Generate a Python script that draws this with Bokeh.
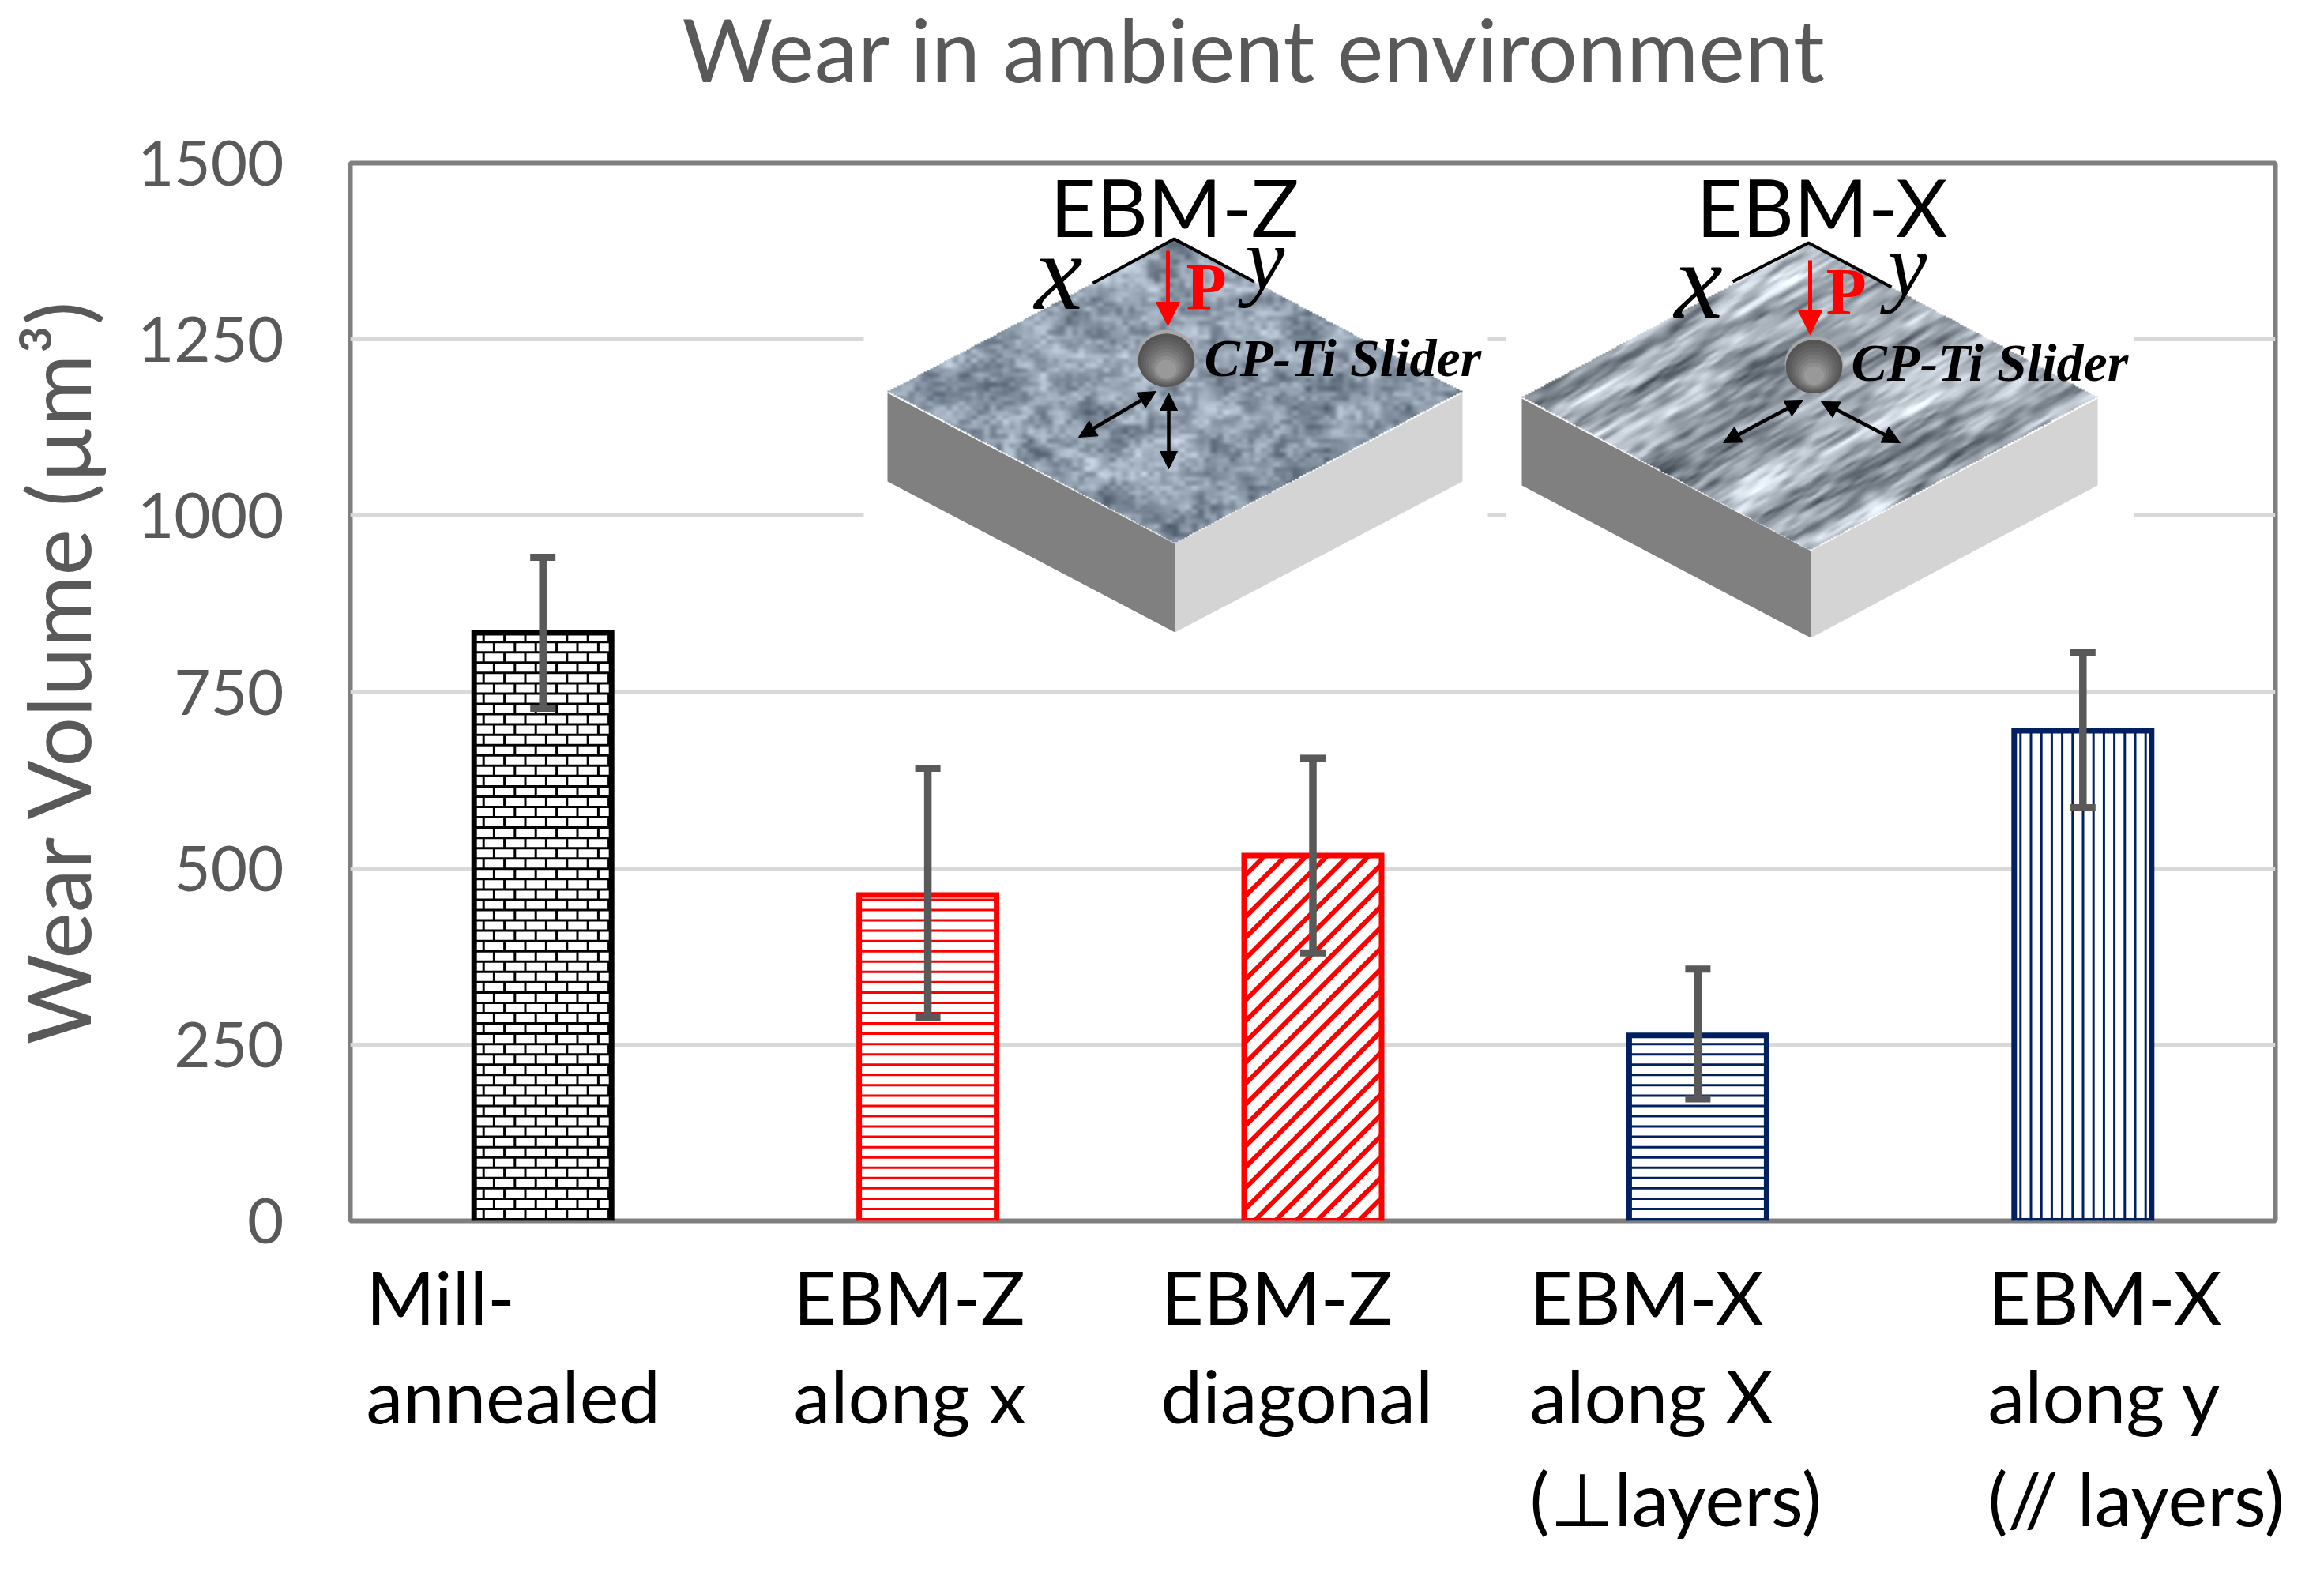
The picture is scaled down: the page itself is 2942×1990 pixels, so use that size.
import numpy as np
from bokeh.plotting import figure
from bokeh.layouts import column, row
from bokeh.core.properties import value
from bokeh.models import Range1d, Arrow, NormalHead, TeeHead, Whisker, ColumnDataSource, FixedTicker
from bokeh.embed import file_html
from bokeh.resources import INLINE

# ---- chart data ----
chart_title = "Wear in ambient environment"
y_label = "Wear Volume (\u00b5m\u00b3)"
categories = [["Mill-", "annealed"], ["EBM-Z", "along x"], ["EBM-Z", "diagonal"],
              ["EBM-X", "along X", "(\u22a5layers)"], ["EBM-X", "along y", "(// layers)"]]
wear_volume = [834, 462, 518, 263, 695]
err_upper = [941, 642, 656, 357, 806]
err_lower = [727, 288, 380, 173, 586]
bar_colors = ["#000000", "#ff0000", "#ff0000", "#002060", "#002060"]
bar_hatches = ["brick", "horizontal", "diagonal", "horizontal", "vertical"]
y_ticks = [0, 250, 500, 750, 1000, 1250, 1500]

TEXT = "#595959"
W, H = 2926, 1974
# frame edges in picture pixels
FL, FR, FT, FB = 443.0, 2880.0, 206.0, 1545.0
H0 = 130     # height of the title strip
H1 = 1575    # bottom of the plot part
S = 170      # width of the strip with the y axis label
XU = (FR - FL) / 5.0
YU = (FB - FT) / 1500.0
EM = 0.37    # the svg text baseline sits this many em too low
def dx(px): return (px - FL) / XU
def dy(py): return (FB - py) / YU

def strip(x0, x1, y_top, y_bottom):
    s = figure(width=x1 - x0, height=y_bottom - y_top, x_range=Range1d(x0, x1), y_range=Range1d(y_bottom, y_top),
               output_backend="svg", toolbar_location=None, x_axis_type=None, y_axis_type=None,
               min_border_left=0, min_border_right=0, min_border_top=0, min_border_bottom=0,
               background_fill_color="white", border_fill_color="white", frame_align=False)
    s.outline_line_color = None
    s.grid.visible = False
    return s

r = strip(0, W, 0, H0)
r.text(x=[863], y=[-7], text=[chart_title], text_font=value("Lato"), text_font_size="111px",
       text_color=TEXT, text_baseline="top", text_align="left")

yl = strip(0, S, H0, H1)
yl.text(x=[113 - EM * 111], y=[1322], text=[y_label], angle=np.pi / 2, text_font=value("Lato"),
        text_font_size="111px", text_color=TEXT, text_baseline="alphabetic", text_align="left")

p = figure(width=W - S, height=H1 - H0, x_range=Range1d(0, 5), y_range=Range1d(0, 1500),
           output_backend="svg", toolbar_location=None, frame_align=False,
           min_border_left=int(FL - S), min_border_right=int(W - FR),
           min_border_top=int(FT - H0), min_border_bottom=int(H1 - FB),
           background_fill_color="white", border_fill_color="white")
p.outline_line_color = "#7f7f7f"
p.outline_line_width = 6
p.xaxis.visible = False
p.xgrid.visible = False
p.ygrid.grid_line_color = "#d9d9d9"
p.ygrid.grid_line_width = 5
ax = p.yaxis[0]
ax.ticker = FixedTicker(ticks=y_ticks)
ax.axis_line_color = None
ax.major_tick_line_color = None
ax.minor_tick_line_color = None
ax.major_label_text_font = "Lato"
ax.major_label_text_font_size = "80px"
ax.major_label_text_color = TEXT
ax.major_label_standoff = 78

# white backing of the two inset pictures, hides the grid there
p.quad(left=[dx(1093), dx(1906)], right=[dx(1883), dx(2701)], top=[dy(212)] * 2, bottom=[dy(812)] * 2,
       fill_color="white", line_color=None)

# ---- bars with pattern fill ----
centers = [i + 0.5 for i in range(5)]
BW = 174.0 / XU
p.vbar(x=centers, top=wear_volume, width=BW, bottom=0, fill_color="white", line_color=None)

def hatch(kind, cx, val):
    xl, xr = FL + (cx - BW / 2) * XU, FL + (cx + BW / 2) * XU
    yt, yb = FB - val * YU, FB
    segs = []
    if kind in ("horizontal", "brick"):
        rows = np.arange(yb - 2, yt, -13.05)
        for r_ in rows:
            segs.append((xl, r_, xr, r_))
        if kind == "brick":
            for k, r_ in enumerate(rows):
                off = 0.0 if k % 2 == 0 else 13.2
                for vx in np.arange(xl + 12 + off, xr, 26.4):
                    segs.append((vx, r_, vx, max(r_ - 13.05, yt)))
    elif kind == "vertical":
        for vx in np.arange(xl + 8, xr, 13.2):
            segs.append((vx, yt, vx, yb))
    elif kind == "diagonal":
        for c in np.arange(xl - (yb - yt), xr, 26.4):
            x0, y0 = c, yb
            x1, y1 = c + (yb - yt), yt
            if x0 < xl:
                y0 -= xl - x0; x0 = xl
            if x1 > xr:
                y1 += x1 - xr; x1 = xr
            if x1 > x0:
                segs.append((x0, y0, x1, y1))
    return segs

for cx, val, col, kind in zip(centers, wear_volume, bar_colors, bar_hatches):
    s = hatch(kind, cx, val)
    p.segment(x0=[dx(a[0]) for a in s], y0=[dy(a[1]) for a in s],
              x1=[dx(a[2]) for a in s], y1=[dy(a[3]) for a in s],
              line_color=col, line_width=6 if kind == "diagonal" else 3)
p.vbar(x=centers, top=wear_volume, width=BW, bottom=0, fill_color=None, line_color=bar_colors,
       line_width=7, line_join="miter")

# ---- error bars ----
src = ColumnDataSource(dict(base=centers, upper=err_upper, lower=err_lower))
p.add_layout(Whisker(source=src, base="base", upper="upper", lower="lower", level="overlay",
                     line_color=TEXT, line_width=9.5,
                     upper_head=TeeHead(size=32, line_color=TEXT, line_width=9),
                     lower_head=TeeHead(size=32, line_color=TEXT, line_width=9)))

# ---- inset sketches ----
def vnoise(a, b, seed):
    ia, ib = np.floor(a), np.floor(b)
    fa, fb = a - ia, b - ib
    def h(i, j):
        v = np.sin(i * 12.9898 + j * 78.233 + seed) * 43758.5453
        return v - np.floor(v)
    fa = fa * fa * (3 - 2 * fa)
    fb = fb * fb * (3 - 2 * fb)
    return (h(ia, ib) * (1 - fa) * (1 - fb) + h(ia + 1, ib) * fa * (1 - fb)
            + h(ia, ib + 1) * (1 - fa) * fb + h(ia + 1, ib + 1) * fa * fb) - 0.5

def texture(apex, left, right, front, streaky):
    x0, x1 = left[0], right[0]
    y0, y1 = apex[1], front[1]
    nx, ny = int((x1 - x0) / 2), int((y1 - y0) / 2)
    xs = np.linspace(x0, x1, nx)
    ys = np.linspace(y1, y0, ny)
    X, Y = np.meshgrid(xs, ys)
    cxm, cym = (x0 + x1) / 2, (y0 + y1) / 2
    inside = np.abs(X - cxm) / ((x1 - x0) / 2) + np.abs(Y - cym) / ((y1 - y0) / 2) <= 1
    u = (X - cxm) * 0.86 - (Y - cym) * 0.51
    v = (X - cxm) * 0.51 + (Y - cym) * 0.86
    if streaky:
        n = (vnoise(u / 120, v / 20, 1.0) * 1.0 + vnoise(u / 55, v / 8, 2.0) * 0.9
             + vnoise(u / 20, v / 4, 3.0) * 0.6)
        base = np.array([156.0, 164.0, 174.0])
        amp = 105.0
    else:
        n = (vnoise(X / 55, Y / 35, 4.0) * 0.8 + vnoise(X / 20, Y / 14, 5.0) * 0.8
             + vnoise(X / 8, Y / 6, 6.0) * 0.7)
        base = np.array([142.0, 156.0, 172.0])
        amp = 72.0
    rgba = np.zeros((ny, nx, 4), dtype=np.uint8)
    for c in range(3):
        rgba[..., c] = np.clip(base[c] + amp * n, 0, 255).astype(np.uint8)
    rgba[..., 3] = np.where(inside, 255, 0)
    img = np.zeros((ny, nx), dtype=np.uint32)
    img.flat = rgba.view(np.uint32).ravel()
    p.image_rgba(image=[img], x=dx(x0), y=dy(y1), dw=dx(x1) - dx(x0), dh=dy(y0) - dy(y1))

def block(apex, left, right, front, depth, streaky):
    p.patch([dx(left[0]), dx(front[0]), dx(front[0]), dx(left[0])],
            [dy(left[1]), dy(front[1]), dy(front[1] + depth), dy(left[1] + depth)],
            fill_color="#808080", line_color=None)
    p.patch([dx(right[0]), dx(front[0]), dx(front[0]), dx(right[0])],
            [dy(right[1]), dy(front[1]), dy(front[1] + depth), dy(right[1] + depth)],
            fill_color="#d4d4d4", line_color=None)
    texture(apex, left, right, front, streaky)

def sphere(cx, cy):
    shades = ["#a8a8a8", "#555555", "#5c5c5c", "#646464", "#6c6c6c", "#767676", "#808080", "#8c8c8c", "#999999"]
    for k, col in enumerate(shades):
        f = 1.0 if k == 0 else 0.97 - (k - 1) * 0.09
        oy = 0 if k == 0 else 2 + k * 1.6
        p.ellipse(x=[dx(cx)], y=[dy(cy + oy)], width=74 * f / XU, height=70 * f / YU,
                  fill_color=col, line_color=None)

def arrow(a, b, col="#000000", width=4.5, size=22, both=False):
    head = NormalHead(size=size, fill_color=col, line_color=col, line_width=1)
    start = NormalHead(size=size, fill_color=col, line_color=col, line_width=1) if both else None
    p.add_layout(Arrow(x_start=dx(a[0]), y_start=dy(a[1]), x_end=dx(b[0]), y_end=dy(b[1]),
                       line_color=col, line_width=width, end=head, start=start))

def txt(x, y, t, font, size, color="#000000", style="normal"):
    p.text(x=[dx(x)], y=[dy(y - EM * size)], text=[t], text_font=value(font), text_font_size=f"{size}px",
           text_font_style=style, text_color=color, text_baseline="alphabetic")

# EBM-Z sketch
block((1486, 302), (1123, 497), (1851, 497), (1487, 688), 112, False)
p.line([dx(1383), dx(1486), dx(1587)], [dy(358), dy(302), dy(356)], line_color="#000000", line_width=4)
sphere(1476, 452)
arrow((1478, 317), (1478, 412), col="#ff0000", width=5, size=30)
arrow((1463, 495), (1365, 553), both=True)
arrow((1479, 497), (1479, 593), both=True)
txt(1329, 298, "EBM-Z", "Lato", 101)
txt(1309, 395, "x", "Liberation Serif", 138, style="italic")
txt(1576, 369, "y", "Liberation Serif", 112, style="italic")
txt(1501, 394, "P", "Liberation Serif", 84, "#ff0000", "bold")
txt(1524, 478, "CP-Ti Slider", "Liberation Serif", 68, style="bold italic")

# EBM-X sketch
block((2289, 307), (1926, 504), (2655, 504), (2292, 697), 110, True)
p.line([dx(2193), dx(2289), dx(2394)], [dy(356), dy(307), dy(363)], line_color="#000000", line_width=4)
sphere(2296, 460)
arrow((2291, 329), (2291, 423), col="#ff0000", width=5, size=30)
arrow((2282, 506), (2181, 560), both=True)
arrow((2305, 508), (2405, 560), both=True)
txt(2147, 298, "EBM-X", "Lato", 101)
txt(2119, 406, "x", "Liberation Serif", 138, style="italic")
txt(2389, 377, "y", "Liberation Serif", 112, style="italic")
txt(2311, 400, "P", "Liberation Serif", 84, "#ff0000", "bold")
txt(2343, 484, "CP-Ti Slider", "Liberation Serif", 68, style="bold italic")

# ---- category labels: a strip under the plot, its data units are picture pixels ----
label_x = [463, 1004, 1469, 1936, 2516]
label_base = [1675, 1800, 1930]
q = strip(0, W, H1, H)
LABEL_SIZE = 94
for lx, lines in zip(label_x, categories):
    q.text(x=[lx] * len(lines), y=[b - EM * LABEL_SIZE for b in label_base[:len(lines)]], text=lines,
           text_font=value("Lato"), text_font_size=f"{LABEL_SIZE}px", text_color="#000000",
           text_baseline="alphabetic", text_align="left")

open("out.html", "w").write(file_html(column(r, row(yl, p, spacing=0), q, spacing=0), INLINE))
